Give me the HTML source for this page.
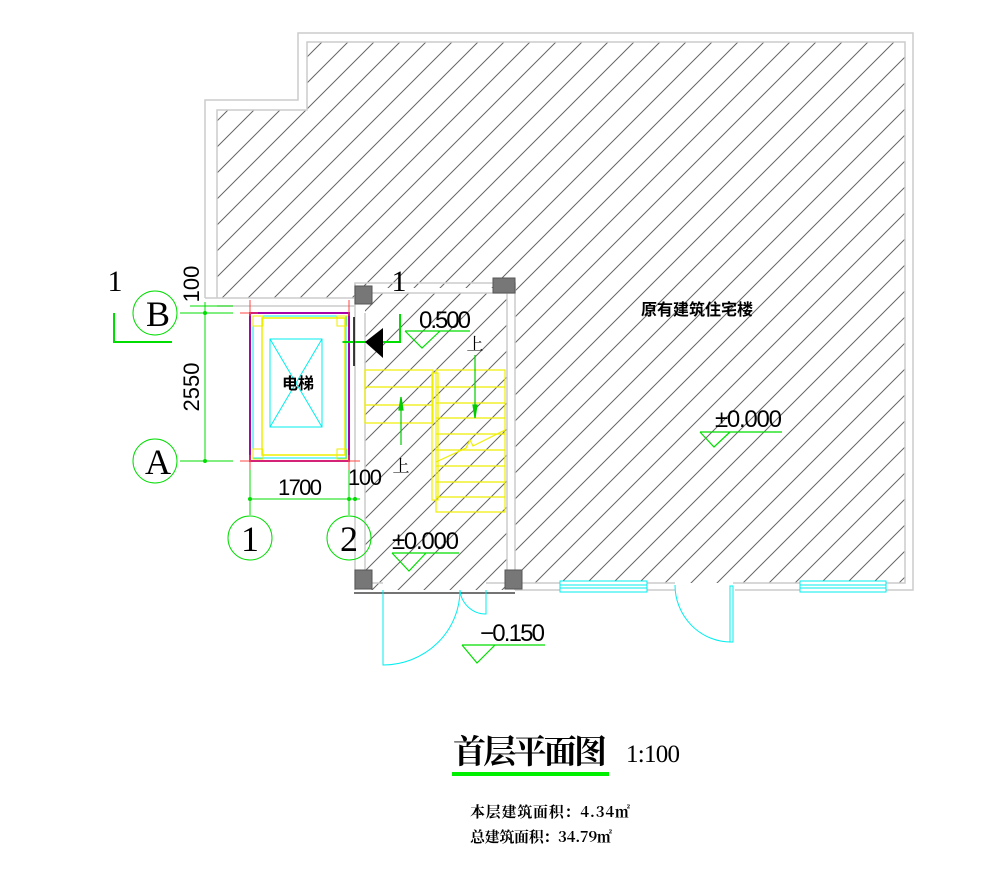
<!DOCTYPE html>
<html><head><meta charset="utf-8"><style>
html,body{margin:0;padding:0;background:#fff;}
svg{display:block;}
</style></head><body>
<svg width="998" height="894" viewBox="0 0 998 894" xmlns="http://www.w3.org/2000/svg" style="font-family:'Liberation Sans','Noto Sans CJK SC',sans-serif">
<defs>
<pattern id="h" width="26" height="26" patternUnits="userSpaceOnUse">
<path d="M-2,28 L28,-2 M-2,2 L2,-2 M24,28 L28,24" stroke="#666" stroke-width="1"/>
</pattern>
</defs>
<rect width="998" height="894" fill="#fff"/>
<polygon points="217,110 307,110 307,42 905,42 905,583 515,583 515,288 355,288 355,298 217,298" fill="url(#h)"/>
<rect x="365" y="293" width="142" height="297" fill="url(#h)"/>
<g fill="none" stroke="#ccc" stroke-width="1.5">
<polyline points="205,298 205,100 298,100 298,33 913,33 913,590 735,590"/>
<polyline points="217,298 217,110 307,110 307,42 905,42 905,583 733,583"/>
<polyline points="675,583 515,583"/>
<polyline points="675,590 515,590"/>
<line x1="205" y1="298" x2="355" y2="298"/>
<line x1="217" y1="306" x2="355" y2="306"/>
<rect x="355" y="283" width="160" height="10"/>
<line x1="355" y1="283" x2="355" y2="590"/>
<line x1="365" y1="313" x2="365" y2="583"/>
<line x1="507" y1="293" x2="507" y2="583"/>
<line x1="515" y1="283" x2="515" y2="590"/>
<line x1="365" y1="583" x2="383" y2="583"/>
<line x1="486" y1="583" x2="507" y2="583"/>
</g>
<line x1="354" y1="593" x2="515" y2="593" stroke="#222" stroke-width="1.2"/>
<g fill="#777" stroke="#555">
<rect x="355" y="286" width="17" height="18"/>
<rect x="493" y="278" width="22" height="15"/>
<rect x="355" y="570" width="17" height="19"/>
<rect x="505" y="570" width="17" height="19"/>
</g>
<g fill="#fff" stroke="#0ee" stroke-width="1">
<rect x="560" y="581" width="87" height="11"/>
<line x1="560" y1="585" x2="647" y2="585"/><line x1="560" y1="588" x2="647" y2="588"/>
<rect x="800" y="581" width="86" height="11"/>
<line x1="800" y1="585" x2="886" y2="585"/><line x1="800" y1="588" x2="886" y2="588"/>
</g>
<g fill="none" stroke="#0ee" stroke-width="1">
<path d="M383,590 L383,665 A77,75 0 0 0 460,590"/>
<path d="M460,590 A26,26 0 0 0 486,614 L486,590"/>
<path d="M675,585 A56,57 0 0 0 731,642"/>
<rect x="730" y="586" width="3" height="56"/>
</g>
<rect x="250" y="313" width="99" height="148" fill="none" stroke="#a0a" stroke-width="2"/>
<rect x="253" y="316" width="93" height="142" fill="none" stroke="#0ee" stroke-width="1"/>
<rect x="262" y="318" width="83" height="137" fill="none" stroke="#ee0" stroke-width="1.5"/>
<g fill="none" stroke="#ee0"><rect x="253" y="316" width="10" height="10"/><rect x="337" y="316" width="10" height="10"/><rect x="253" y="449" width="10" height="10"/><rect x="337" y="449" width="10" height="10"/></g>
<rect x="270" y="339" width="52" height="88" fill="none" stroke="#0ee"/>
<path d="M270,339 L322,427 M322,339 L270,427" stroke="#0ee"/>
<text x="298" y="389" font-size="16" text-anchor="middle" fill="#000" style="font-weight:bold">电梯</text>
<g stroke="#f44" stroke-width="1"><line x1="250" y1="300" x2="250" y2="316"/><line x1="349" y1="300" x2="349" y2="316"/><line x1="240" y1="313" x2="258" y2="313"/><line x1="240" y1="461" x2="360" y2="461"/><line x1="250" y1="455" x2="250" y2="475"/><line x1="349" y1="455" x2="349" y2="475"/></g>
<g fill="none" stroke="#ee0" stroke-width="1.2">
<rect x="365" y="370" width="68" height="53"/>
<line x1="365" y1="387" x2="433" y2="387"/><line x1="365" y1="405" x2="433" y2="405"/>
<rect x="432" y="373" width="6" height="127"/>
<rect x="436" y="370" width="69" height="142"/>
<line x1="436" y1="387" x2="505" y2="387"/><line x1="436" y1="403" x2="505" y2="403"/><line x1="436" y1="418" x2="505" y2="418"/><line x1="436" y1="434" x2="505" y2="434"/><line x1="436" y1="450" x2="505" y2="450"/><line x1="436" y1="466" x2="505" y2="466"/><line x1="436" y1="482" x2="505" y2="482"/><line x1="436" y1="497" x2="505" y2="497"/>
<path d="M436,462 L466,448 L470,440 L473,446 L505,430"/>
</g>
<g stroke="#0c0" stroke-width="1.2" fill="#0c0">
<line x1="401" y1="445" x2="401" y2="397"/><path d="M399,410 L401,397 L403,410Z"/>
<line x1="475" y1="355" x2="475" y2="418"/><path d="M473,405 L475,418 L477,405Z"/>
</g>
<text x="401" y="472" font-size="17" text-anchor="middle" style="font-family:'Noto Serif CJK SC',serif">上</text>
<text x="475" y="350" font-size="17" text-anchor="middle" style="font-family:'Noto Serif CJK SC',serif">上</text>
<polyline points="343,342 400,342 400,314" stroke="#0d0" stroke-width="2" fill="none"/>
<line x1="354" y1="317" x2="354" y2="366" stroke="#000" stroke-width="1.5"/>
<path d="M365,342 L383,328 L383,358Z" fill="#000"/>
<text x="399" y="291" font-size="30" text-anchor="middle" style="font-family:'Liberation Serif',serif">1</text>
<polyline points="114,313 114,342 172,342" stroke="#0d0" stroke-width="2" fill="none"/>
<text x="115" y="291" font-size="30" text-anchor="middle" style="font-family:'Liberation Serif',serif">1</text>
<g stroke="#0d0" stroke-width="1.2" fill="none">
<path d="M405,331 L470,331 M405,331 L422,348 L440,331"/>
<path d="M700,432 L782,432 M700,432 L714,447 L730,432"/>
<path d="M392,553 L459,553 M392,553 L409,571 L426,553"/>
<path d="M462,645 L545,645 M462,645 L477,663 L495,645"/>
</g>
<g font-size="24" fill="#000">
<text x="419" y="328" textLength="52">0.500</text>
<text x="715" y="427" textLength="67">±0.000</text>
<text x="392" y="549" textLength="67">±0.000</text>
<text x="480" y="641" textLength="65">−0.150</text>
</g>
<text x="697" y="315" font-size="16" text-anchor="middle" style="font-weight:bold">原有建筑住宅楼</text>
<g stroke="#0d0" stroke-width="1" fill="none">
<line x1="205" y1="302" x2="205" y2="462"/>
<line x1="180" y1="313" x2="233" y2="313"/><line x1="180" y1="461" x2="233" y2="461"/>
<line x1="190" y1="306" x2="233" y2="306"/>
<line x1="248" y1="499" x2="360" y2="499"/>
<line x1="250" y1="470" x2="250" y2="515"/><line x1="349" y1="470" x2="349" y2="515"/>
<line x1="342" y1="342" x2="354" y2="342"/>
<circle cx="155" cy="313" r="22"/><circle cx="155" cy="461" r="22"/>
<circle cx="250" cy="538" r="22"/><circle cx="349" cy="538" r="22"/>
</g>
<g fill="#0d0"><circle cx="205" cy="313" r="2"/><circle cx="205" cy="461" r="2"/><circle cx="250" cy="499" r="2"/><circle cx="349" cy="499" r="2"/><circle cx="355" cy="499" r="2"/></g>
<g font-size="36" text-anchor="middle" fill="#000" style="font-family:'Liberation Serif',serif">
<text x="158" y="326">B</text><text x="158" y="474">A</text>
<text x="250" y="551">1</text><text x="349" y="551">2</text>
</g>
<g font-size="22" fill="#000">
<text x="278" y="495" textLength="44">1700</text>
<text x="348" y="485" textLength="34">100</text>
<text transform="translate(199,387) rotate(-90)" text-anchor="middle">2550</text>
<text transform="translate(199,284) rotate(-90)" text-anchor="middle">100</text>
</g>
<text x="453" y="763" font-size="33" textLength="154" style="font-family:'Noto Serif CJK SC',serif;font-weight:bold">首层平面图</text>
<text x="626" y="762" font-size="25" textLength="54" style="font-family:'Liberation Serif',serif">1:100</text>
<rect x="452" y="772" width="157" height="4" fill="#0e0"/>
<text x="470" y="817" font-size="15" textLength="160" style="font-family:'Noto Serif CJK SC',serif;font-weight:bold">本层建筑面积：4.34㎡</text>
<text x="470" y="842" font-size="15" textLength="142" style="font-family:'Noto Serif CJK SC',serif;font-weight:bold">总建筑面积：34.79㎡</text>
</svg>
</body></html>
